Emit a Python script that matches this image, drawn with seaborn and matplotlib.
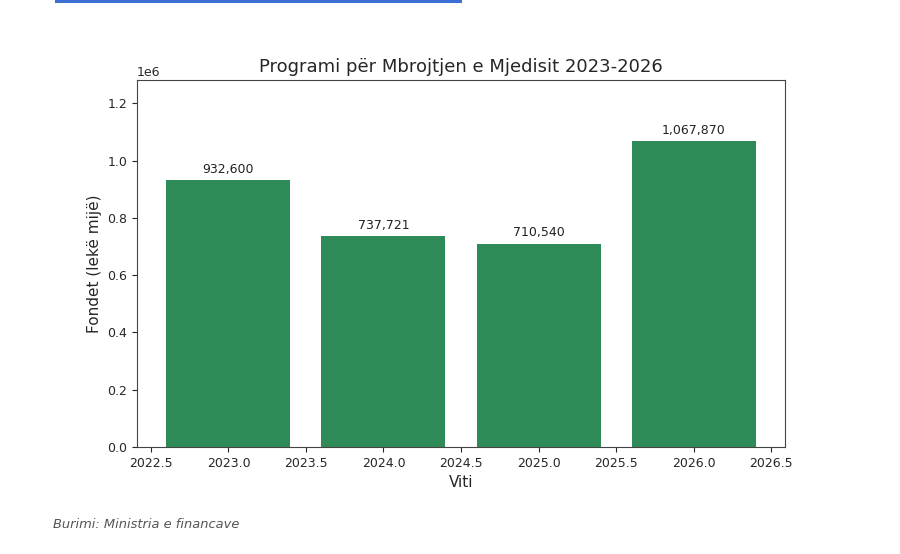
import numpy as np
import pandas as pd
import matplotlib
matplotlib.use("Agg")
import matplotlib.pyplot as plt
import seaborn as sns
from matplotlib.patches import Rectangle

years = [2023, 2024, 2025, 2026]
funds = [932600, 737721, 710540, 1067870]

title = "Programi për Mbrojtjen e Mjedisit 2023-2026"
x_label = "Viti"
y_label = "Fondet (lekë mijë)"
source = "Burimi: Ministria e financave"

df = pd.DataFrame({"year": years, "funds": funds})

sns.set_style("ticks")
plt.rcParams['font.family'] = ['DejaVu Sans']

fig = plt.figure(figsize=(9, 5.54), dpi=100)
ax = fig.add_axes([137 / 900, 1 - 447 / 554, (785 - 137) / 900, (447 - 80) / 554])

sns.barplot(data=df, x="year", y="funds", native_scale=True, color="seagreen",
            saturation=1, width=0.8, errorbar=None, linewidth=0, ax=ax)

ax.bar_label(ax.containers[0], labels=[f"{v:,.0f}" for v in funds],
             padding=3, fontsize=9, color="#222222")

ax.set_xlim(2022.41, 2026.59)
ax.set_ylim(0, max(funds) * 1.2)
ax.set_title(title, fontsize=13, pad=6)
ax.set_xlabel(x_label, fontsize=11)
ax.set_ylabel(y_label, fontsize=11)
ax.tick_params(labelsize=9)
ax.yaxis.get_offset_text().set_fontsize(9)
for sp in ax.spines.values():
    sp.set_visible(True)
    sp.set_color("#444444")

# page decorations around the chart
fig.add_artist(Rectangle((55 / 900, 1 - 3 / 554), (462 - 55) / 900, 3 / 554,
                         transform=fig.transFigure, color="#3b6fd4", lw=0))
fig.text(53 / 900, 1 - 524 / 554, source, fontsize=9.4, style="italic",
         color="#555555", va="center")

fig.savefig("out.png", dpi=100)
